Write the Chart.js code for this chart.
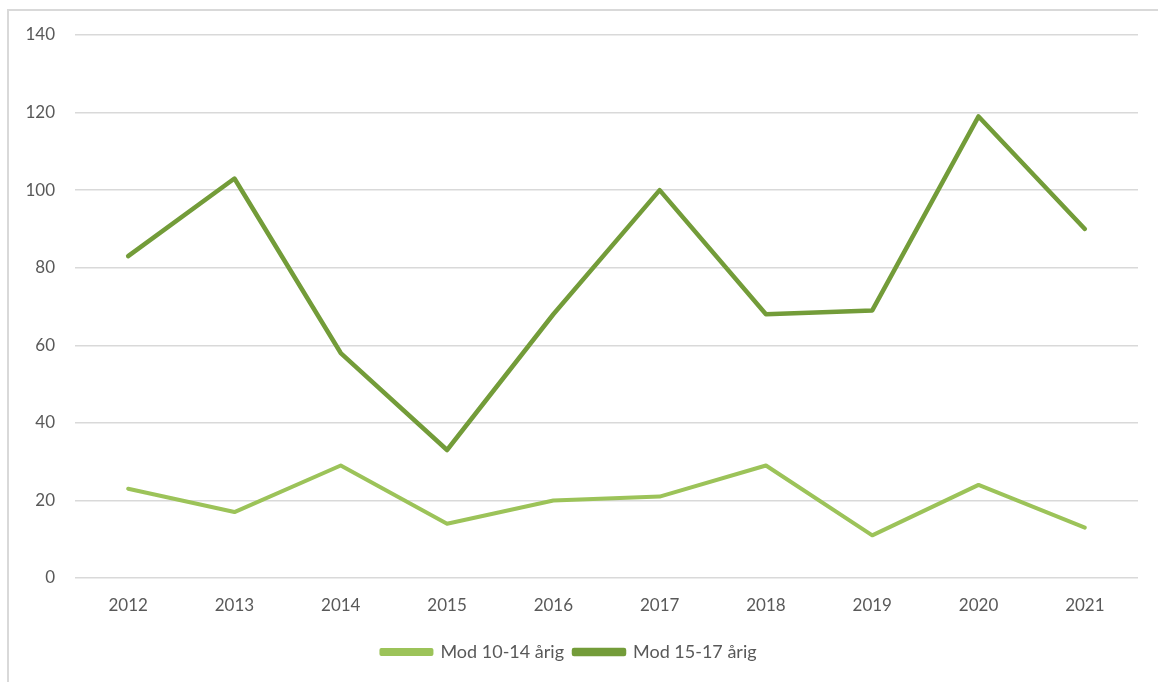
<!DOCTYPE html>
<html>
<head>
<meta charset="utf-8">
<script src="https://cdn.jsdelivr.net/npm/chart.js@4.4.0/dist/chart.umd.min.js"></script>
<style>
  html, body { margin: 0; padding: 0; background: #fff; }
  #wrap { position: relative; width: 1158px; height: 682px; overflow: hidden; }
  #frame { position: absolute; left: 7px; top: 9px; width: 1200px; height: 720px;
           border-top: 2px solid #d9d9d9; border-left: 2px solid #d9d9d9; }
  canvas { position: absolute; left: 0; top: 0; }
</style>
</head>
<body>
<div id="wrap">
  <div id="frame"></div>
  <canvas id="chart" width="1158" height="682"></canvas>
</div>
<script>
const years = ["2012", "2013", "2014", "2015", "2016", "2017", "2018", "2019", "2020", "2021"];
const age10to14 = [23, 17, 29, 14, 20, 21, 29, 11, 24, 13];
const age15to17 = [83, 103, 58, 33, 68, 100, 68, 69, 119, 90];
const seriesNames = ["Mod 10-14 årig", "Mod 15-17 årig"];

const lightGreen = "#9cc359";
const darkGreen = "#739c39";
const textGray = "#595959";
const fontFamily = "Lato, 'Open Sans', sans-serif";

new Chart(document.getElementById("chart"), {
  type: "line",
  data: {
    labels: years,
    datasets: [
      {
        label: seriesNames[0],
        data: age10to14,
        borderColor: lightGreen,
        backgroundColor: lightGreen,
        borderWidth: 4,
        pointRadius: 0,
        tension: 0,
        borderCapStyle: "round",
        borderJoinStyle: "round"
      },
      {
        label: seriesNames[1],
        data: age15to17,
        borderColor: darkGreen,
        backgroundColor: darkGreen,
        borderWidth: 4.5,
        pointRadius: 0,
        tension: 0,
        borderCapStyle: "round",
        borderJoinStyle: "round"
      }
    ]
  },
  options: {
    responsive: false,
    animation: false,
    layout: { padding: { top: 35, right: 20, bottom: 11, left: 0 } },
    plugins: {
      tooltip: { enabled: false },
      legend: {
        position: "bottom",
        labels: {
          color: textGray,
          font: { family: fontFamily, size: 18 },
          boxWidth: 50,
          boxHeight: 4,
          padding: 10
        }
      }
    },
    scales: {
      x: {
        offset: true,
        grid: { display: false, drawTicks: false },
        border: { display: false },
        ticks: { color: textGray, font: { family: fontFamily, size: 17 }, padding: 17 },
        afterFit: s => { s.height = 55; }
      },
      y: {
        min: 0,
        max: 140,
        grid: { color: "#d9d9d9", lineWidth: 1.5, drawTicks: false },
        border: { display: false },
        ticks: { stepSize: 20, color: textGray, font: { family: fontFamily, size: 17 }, padding: 20 },
        afterFit: s => { s.width = 75; }
      }
    }
  }
});
</script>
</body>
</html>
